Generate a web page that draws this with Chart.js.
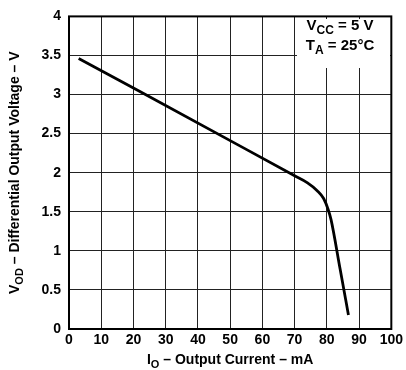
<!DOCTYPE html>
<html>
<head>
<meta charset="utf-8">
<script src="https://cdn.jsdelivr.net/npm/chart.js@4"></script>
<style>
  html, body { margin: 0; padding: 0; background: #fff; }
  #wrap { width: 406px; height: 370px; }
</style>
</head>
<body>
<div id="wrap"><canvas id="chart" width="406" height="370"></canvas></div>
<script>
// ==== Data ====
const currentMA = [3, 22, 70, 74, 77, 79, 80.4, 81.3, 84.1, 86.7];
const voltageV  = [3.46, 3.04, 1.96, 1.87, 1.77, 1.67, 1.53, 1.40, 0.77, 0.18];

const xTickLabels = ["0","10","20","30","40","50","60","70","80","90","100"];
const yTickLabels = ["0","0.5","1","1.5","2","2.5","3","3.5","4"];

const FONT = '"Liberation Sans", Arial, sans-serif';

// ==== Helpers ====
// draw a string made of parts, some of them subscript; centred on (x, y)
function drawParts(ctx, parts, x, y, size) {
  const subSize = Math.round(size * 0.8);
  let total = 0;
  parts.forEach(p => {
    ctx.font = `bold ${p.sub ? subSize : size}px ${FONT}`;
    p.w = ctx.measureText(p.t).width;
    total += p.w;
  });
  let cx = x - total / 2;
  ctx.textAlign = "left";
  ctx.textBaseline = "alphabetic";
  parts.forEach(p => {
    ctx.font = `bold ${p.sub ? subSize : size}px ${FONT}`;
    ctx.fillText(p.t, cx, p.sub ? y + 4 : y);
    cx += p.w;
  });
}

const decor = {
  id: "decor",
  beforeDatasetsDraw(chart) {
    const { ctx } = chart;
    ctx.save();
    // white box behind the conditions note
    ctx.fillStyle = "#fff";
    ctx.fillRect(297, 19, 93, 49);
    ctx.restore();
  },
  afterDraw(chart) {
    const { ctx, chartArea: a } = chart;
    ctx.save();
    ctx.strokeStyle = "#000";
    ctx.lineWidth = 2;
    ctx.strokeRect(a.left, a.top, a.right - a.left, a.bottom - a.top);

    ctx.fillStyle = "#000";
    // conditions note
    drawParts(ctx, [{t:"V"},{t:"CC",sub:true},{t:" = 5 V"}], 340, 30, 15);
    drawParts(ctx, [{t:"T"},{t:"A",sub:true},{t:" = 25°C"}], 340, 50, 15);

    // x title
    drawParts(ctx, [{t:"I"},{t:"O",sub:true},{t:" – Output Current – mA"}], (a.left + a.right) / 2, 364, 14);

    // y title (rotated)
    ctx.translate(19, (a.top + a.bottom) / 2);
    ctx.rotate(-Math.PI / 2);
    drawParts(ctx, [{t:"V"},{t:"OD",sub:true},{t:" – Differential Output Voltage – V"}], 0, 0, 14);
    ctx.restore();
  }
};

new Chart(document.getElementById("chart"), {
  type: "scatter",
  data: {
    datasets: [{
      data: currentMA.map((x, i) => ({ x, y: voltageV[i] })),
      showLine: true,
      borderColor: "#000",
      borderWidth: 2.8,
      pointRadius: 0,
      cubicInterpolationMode: "monotone",
      fill: false
    }]
  },
  options: {
    responsive: false,
    animation: false,
    devicePixelRatio: 1,
    layout: { padding: { top: 4, right: 11, left: 0, bottom: 0 } },
    plugins: { legend: { display: false }, tooltip: { enabled: false } },
    scales: {
      x: {
        type: "linear", min: 0, max: 100,
        afterFit: s => { s.height = 41; },
        afterBuildTicks: s => { s.ticks = xTickLabels.map(v => ({ value: +v })); },
        ticks: {
          autoSkip: false, maxRotation: 0, padding: 3, color: "#000",
          font: { family: FONT, size: 14, weight: "bold" },
          callback: (v, i) => xTickLabels[i]
        },
        grid: { color: "#222", lineWidth: 1, drawTicks: false },
        border: { display: false }
      },
      y: {
        type: "linear", min: 0, max: 4,
        afterFit: s => { s.width = 69; },
        afterBuildTicks: s => { s.ticks = yTickLabels.map(v => ({ value: +v })); },
        ticks: {
          autoSkip: false, padding: 8, color: "#000",
          font: { family: FONT, size: 14, weight: "bold" },
          callback: (v, i) => yTickLabels[i]
        },
        grid: { color: "#222", lineWidth: 1, drawTicks: false },
        border: { display: false }
      }
    }
  },
  plugins: [decor]
});
</script>
</body>
</html>
